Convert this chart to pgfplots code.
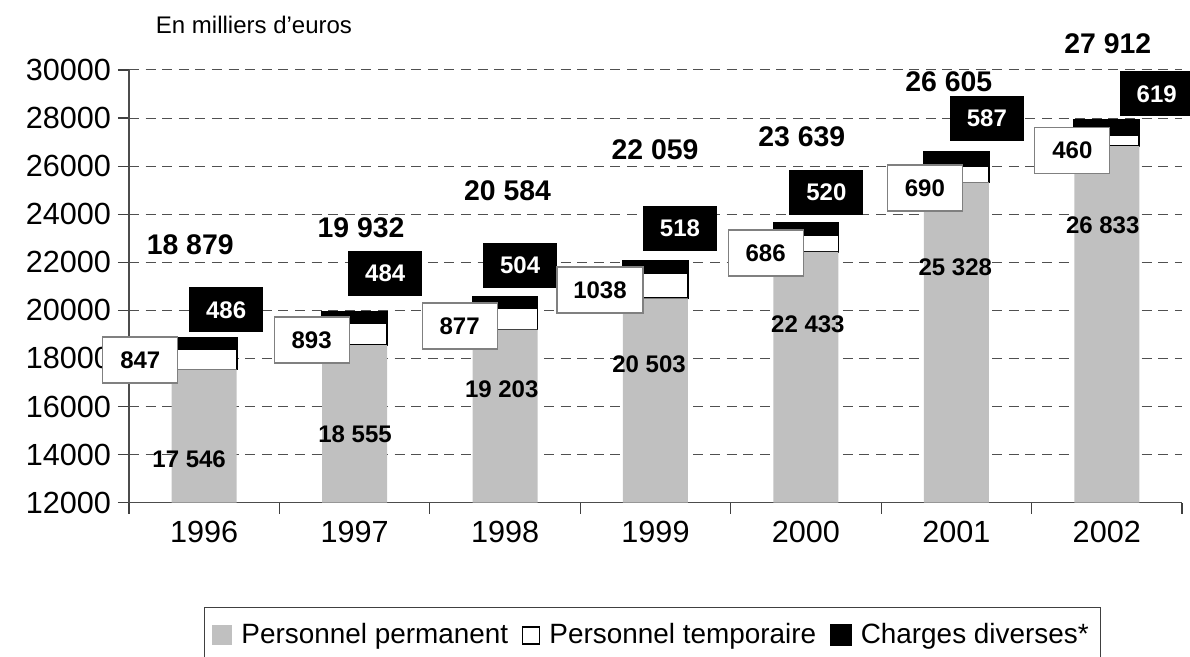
\documentclass[border=0pt]{standalone}
\usepackage{fontspec}
\setmainfont{Liberation Sans}
\usepackage{pgfplots}
\usepackage{pgfplotstable}
\pgfplotsset{compat=1.18}

\definecolor{permgray}{RGB}{192,192,192}
\definecolor{boxgray}{RGB}{128,128,128}
\definecolor{gridgray}{RGB}{80,80,80}

% en milliers d'euros
\pgfplotstableread{
x perm temp charges
0 17546 847 486
1 18555 893 484
2 19203 877 504
3 20503 1038 518
4 22433 686 520
5 25328 690 587
6 26833 460 619
}\costs

\tikzset{
  tot/.style={font=\fontsize{14.2}{16}\selectfont\bfseries},
  blk/.style={fill=black, text=white, font=\fontsize{12}{14}\selectfont\bfseries,
    minimum width=37pt, minimum height=22.5pt, inner sep=0pt},
  wht/.style={fill=white, draw=boxgray, line width=0.6pt, font=\fontsize{12}{14}\selectfont\bfseries,
    minimum width=37.5pt, minimum height=23pt, inner sep=0pt},
  prm/.style={font=\fontsize{12}{14}\selectfont\bfseries},
}

\begin{document}
\begin{tikzpicture}
\begin{axis}[
    scale only axis,
    width=526.5pt, height=216.35pt,
    ybar stacked, bar width=32.5pt,
    xmin=-0.5, xmax=6.5, ymin=12000, ymax=30000,
    ytick={12000,14000,...,30000},
    scaled y ticks=false,
    xtick={0,...,6}, xticklabels={1996,1997,1998,1999,2000,2001,2002},
    minor xtick={-0.5,0.5,...,6.5},
    axis x line*=bottom, axis y line*=left,
    axis line style={draw=black!70, line width=0.6pt},
    ymajorgrids,
    major grid style={dash pattern=on 5pt off 3.3pt, draw=gridgray, line width=0.5pt},
    tick align=outside, major tick length=5.5pt, minor tick length=5.5pt,
    tick style={draw=black!75, line width=0.6pt},
    major x tick style={draw=none},
    tick label style={font=\fontsize{15.3}{18}\selectfont},
    /pgf/number format/1000 sep={},
    /pgf/number format/assume math mode=true,
    clip mode=individual,
    legend columns=-1,
    legend style={at={(0.0712,-0.241)}, anchor=north west, draw=black!75, line width=0.5pt,
      font=\fontsize{13.95}{16}\selectfont, inner xsep=4pt, inner ysep=6pt,
      /tikz/every odd column/.append style={column sep=2.5pt},
      /tikz/every even column/.append style={column sep=5pt}},
]
\addplot[fill=permgray, draw=none,
  legend image code/.code={\fill[permgray] (0pt,-5pt) rectangle (10pt,5pt);}]
  table[x=x, y=perm]{\costs};
\addplot[fill=white, draw=black, line width=0.8pt,
  legend image code/.code={\draw[draw=black, fill=white, line width=0.6pt] (0.5pt,-4.5pt) rectangle (9pt,4pt);}]
  table[x=x, y=temp]{\costs};
\addplot[fill=black, draw=black, line width=0.8pt,
  legend image code/.code={\fill[black] (0pt,-5pt) rectangle (10pt,5pt);}]
  table[x=x, y=charges]{\costs};
\legend{Personnel permanent, Personnel temporaire, Charges diverses*}

% label anchors: t = total, c = charges, w = temporaire, p = permanent
\coordinate (t0) at (axis cs:-0.093,22720);
\coordinate (c0) at (axis cs:0.146,20016);
\coordinate (w0) at (axis cs:-0.425,17936);
\coordinate (p0) at (axis cs:-0.1,13818);
\coordinate (t1) at (axis cs:1.043,23427);
\coordinate (c1) at (axis cs:1.203,21534);
\coordinate (w1) at (axis cs:0.714,18768);
\coordinate (p1) at (axis cs:1.003,14858);
\coordinate (t2) at (axis cs:2.017,24966);
\coordinate (c2) at (axis cs:2.1,21867);
\coordinate (w2) at (axis cs:1.698,19350);
\coordinate (p2) at (axis cs:1.978,16730);
\coordinate (t3) at (axis cs:2.997,26672);
\coordinate (c3) at (axis cs:3.163,23415);
\coordinate (w3) at (axis cs:2.631,20848);
\coordinate (p3) at (axis cs:2.957,17749);
\coordinate (t4) at (axis cs:3.973,27213);
\coordinate (c4) at (axis cs:4.136,24904);
\coordinate (w4) at (axis cs:3.732,22387);
\coordinate (p4) at (axis cs:4.013,19434);
\coordinate (t5) at (axis cs:4.95,29501);
\coordinate (c5) at (axis cs:5.203,27991);
\coordinate (w5) at (axis cs:4.791,25091);
\coordinate (p5) at (axis cs:4.993,21784);
\coordinate (t6) at (axis cs:6.007,31082);
\coordinate (c6) at (axis cs:6.332,29002);
\coordinate (w6) at (axis cs:5.771,26651);
\coordinate (p6) at (axis cs:5.973,23552);
\coordinate (unit) at (rel axis cs:0.1187,1.104);
\end{axis}

\node[tot] at (t0) {18 879};
\node[blk] at (c0) {486};
\node[wht] at (w0) {847};
\node[prm] at (p0) {17 546};
\node[tot] at (t1) {19 932};
\node[blk] at (c1) {484};
\node[wht] at (w1) {893};
\node[prm] at (p1) {18 555};
\node[tot] at (t2) {20 584};
\node[blk] at (c2) {504};
\node[wht] at (w2) {877};
\node[prm] at (p2) {19 203};
\node[tot] at (t3) {22 059};
\node[blk] at (c3) {518};
\node[wht, minimum width=43pt] at (w3) {1038};
\node[prm] at (p3) {20 503};
\node[tot] at (t4) {23 639};
\node[blk] at (c4) {520};
\node[wht] at (w4) {686};
\node[prm] at (p4) {22 433};
\node[tot] at (t5) {26 605};
\node[blk] at (c5) {587};
\node[wht] at (w5) {690};
\node[prm] at (p5) {25 328};
\node[tot] at (t6) {27 912};
\node[blk] at (c6) {619};
\node[wht] at (w6) {460};
\node[prm] at (p6) {26 833};
\node[font=\fontsize{12}{14}\selectfont] at (unit) {En milliers d’euros};

\pgfresetboundingbox
\path[use as bounding box] (-64.5pt,-77.15pt) rectangle (530.5pt,251.35pt);
\end{tikzpicture}
\end{document}
